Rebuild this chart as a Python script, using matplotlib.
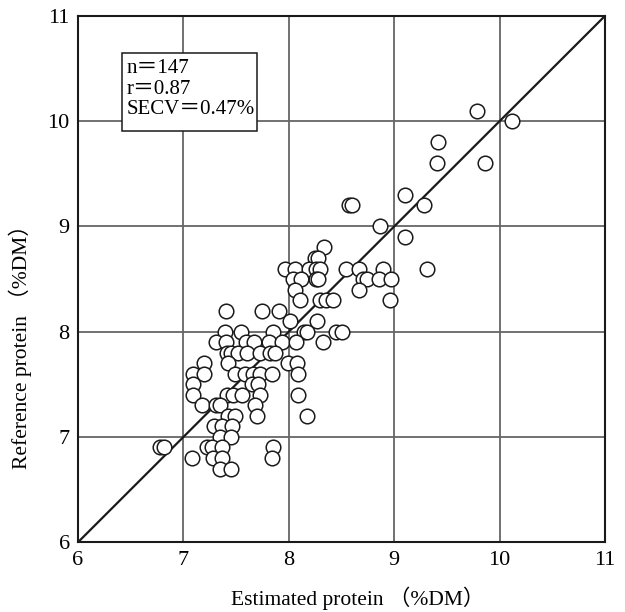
import numpy as np
import matplotlib
matplotlib.use('Agg')
import matplotlib.pyplot as plt
from matplotlib.patches import Rectangle

# reference values (y) and the estimated values (x), row by row
rows = {
    10.1: [9.79],
    10.0: [10.12],
    9.8: [9.42],
    9.6: [9.41, 9.86],
    9.3: [9.10],
    9.2: [8.57, 8.60, 9.28],
    9.0: [8.87],
    8.9: [9.10],
    8.8: [8.33],
    8.7: [8.25, 8.28],
    8.6: [7.96, 8.06, 8.19, 8.26, 8.30, 8.54, 8.67, 8.89, 9.31],
    8.5: [8.04, 8.12, 8.26, 8.28, 8.70, 8.74, 8.86, 8.97],
    8.4: [8.06, 8.67],
    8.3: [8.11, 8.30, 8.35, 8.42, 8.96],
    8.2: [7.40, 7.75, 7.91],
    8.1: [8.01, 8.27],
    8.0: [7.39, 7.55, 7.85, 8.14, 8.17, 8.45, 8.50],
    7.9: [7.31, 7.40, 7.59, 7.67, 7.81, 7.94, 8.07, 8.32],
    7.8: [7.41, 7.45, 7.52, 7.60, 7.73, 7.82, 7.87],
    7.7: [7.20, 7.42, 7.99, 8.08],
    7.6: [7.09, 7.20, 7.49, 7.58, 7.66, 7.73, 7.84, 8.09],
    7.5: [7.09, 7.65, 7.71],
    7.4: [7.09, 7.41, 7.47, 7.56, 7.73, 8.09],
    7.3: [7.18, 7.31, 7.35, 7.68],
    7.2: [7.42, 7.49, 7.70, 8.17],
    7.1: [7.29, 7.37, 7.46],
    7.0: [7.35, 7.45],
    6.9: [6.78, 6.82, 7.22, 7.27, 7.37, 7.85],
    6.8: [7.08, 7.28, 7.37, 7.84],
    6.7: [7.35, 7.45],
}
estimated = np.array([x for y, xs in rows.items() for x in xs])
reference = np.array([y for y, xs in rows.items() for x in xs])

ticks = [6, 7, 8, 9, 10, 11]
stats = ['n\uff1d147', 'r\uff1d0.87', 'SECV\uff1d0.47%']

fam = ['Liberation Serif', 'Noto Sans CJK JP', 'DejaVu Sans']
plt.rcParams['font.family'] = fam

fig = plt.figure(figsize=(6.25, 6.12), dpi=100)
ax = fig.add_axes([0.1248, 0.114, 0.8432, 0.86])

ax.set_xlim(6, 11)
ax.set_ylim(6, 11)
ax.set_xticks(ticks)
ax.set_yticks(ticks)
ax.grid(True, color='#666666', lw=1.3)
ax.set_axisbelow(True)

ax.plot([6, 11], [6, 11], color='#1a1a1a', lw=1.6, zorder=2)
ax.plot(estimated, reference, 'o', ms=10.5, mfc='white', mec='#1a1a1a', mew=1.1, zorder=3)

ax.tick_params(length=0, labelsize=16, pad=6)
for s in ax.spines.values():
    s.set_linewidth(1.5)
    s.set_color('#1a1a1a')

ax.set_xlabel('Estimated protein \uff08%DM\uff09', fontsize=15.5)
ax.set_ylabel('Reference protein \uff08%DM\uff09', fontsize=15.5)
ax.xaxis.set_label_coords(0.531, -0.085)
ax.yaxis.set_label_coords(-0.088, 0.382)

# stats box
ax.add_patch(Rectangle((0.0835, 0.7814), 0.2565, 0.1483, transform=ax.transAxes,
                       fc='white', ec='#1a1a1a', lw=1.1, zorder=5))
ax.text(0.093, 0.918, '\n'.join(stats), transform=ax.transAxes, fontsize=15,
        va='top', ha='left', linespacing=1.12, zorder=6)

fig.savefig('out.png', dpi=100)
